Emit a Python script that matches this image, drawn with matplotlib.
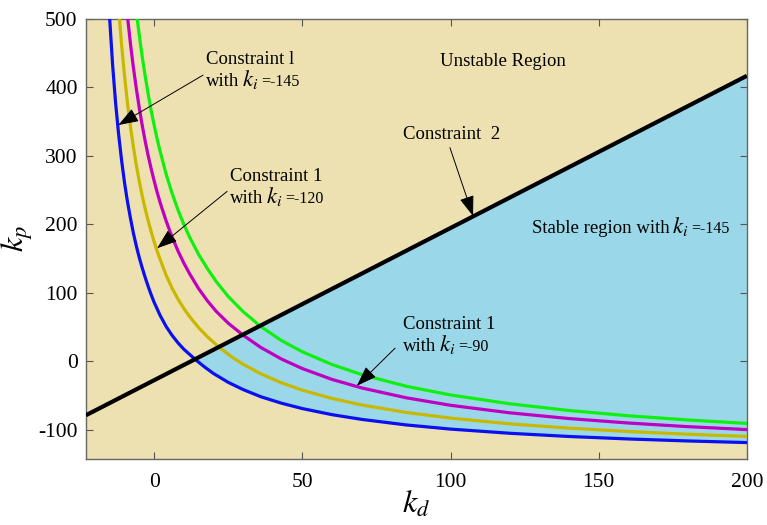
import numpy as np
import matplotlib
matplotlib.use("Agg")
import matplotlib.pyplot as plt
from matplotlib.patches import Polygon
from matplotlib.offsetbox import TextArea, HPacker, AnnotationBbox

plt.rcParams["font.family"] = ["Liberation Serif", "DejaVu Serif"]
plt.rcParams["mathtext.fontset"] = "stix"
plt.rcParams["axes.unicode_minus"] = False

# Constraint 1 boundaries (kd, kp) for several ki values
kd_ki145 = [-15, -14, -13, -12, -11, -10, -9, -8, -7, -6, -5, -4, -3, -2, -1, 0,
            2, 4, 6, 8, 10, 14, 17, 20, 25, 30, 36, 43, 50, 60, 70, 85, 100, 120,
            140, 160, 180, 200]
kp_ki145 = [500, 432, 377, 332, 294, 261, 233, 209, 187, 168, 151, 136, 122, 109,
            97, 86, 67, 51, 38, 27, 17.5, 2, -8.5, -18, -31, -41.5, -52, -61.5,
            -69.3, -78.2, -85.1, -93.2, -99.3, -105.4, -110.1, -113.7, -116.6, -119]

kd_ki120 = [-11.7, -11, -10, -9, -8, -7, -6, -5, -4, -3, -2, -1, 0, 1, 2, 4, 6, 8,
            10, 12, 15, 18, 22, 26, 30, 36, 43, 50, 60, 70, 85, 100, 120, 140, 160,
            180, 200]
kp_ki120 = [500, 463, 417, 377, 343, 313, 286, 262.5, 241, 222, 205, 189, 174.5,
            161, 149, 126, 107, 91, 77, 65, 49, 35.5, 20, 6.8, -4.5, -18.5, -31.7,
            -42.4, -54.5, -64, -74.9, -83.2, -91.6, -97.9, -102.8, -106.8, -110]

kd_ki90 = [-8.9, -8, -7, -6, -5, -4, -3, -2, -1, 0, 1, 2, 4, 6, 8, 10, 12, 15, 18,
           21, 25, 30, 36, 43, 50, 60, 70, 85, 100, 120, 140, 160, 180, 200]
kp_ki90 = [500, 464, 429, 398, 369.5, 344, 321, 300, 281, 263.5, 247, 232, 205.5,
           182, 161.5, 143.5, 127.5, 106, 88, 72.5, 55.5, 38, 20, 3, -10.8, -26.7,
           -39.1, -53.5, -64.5, -75.5, -83.9, -90.4, -95.7, -100]

kd_ki60 = [-5.7, -5, -4, -3, -2, -1, 0, 1, 2, 4, 6, 8, 10, 12, 15, 18, 21, 25, 30,
           36, 43, 50, 60, 70, 85, 100, 120, 140, 160, 180, 200]
kp_ki60 = [500, 476, 444, 416, 390, 366, 345, 325, 307, 274, 246, 221.5, 200,
           181, 156, 135, 116, 94.5, 72.5, 50.5, 30, 13.7, -4.9, -19.6, -36.6,
           -49.4, -62.3, -72.1, -79.8, -85.9, -91]

# Constraint 2 (straight boundary)
kd_c2 = [-23.0, 200.0]
kp_c2 = [-79.0, 417.0]

xticks = [0, 50, 100, 150, 200]
yticks = [-100, 0, 100, 200, 300, 400, 500]

beige = "#EEE1B1"
cyan = "#9AD8E9"

fig = plt.figure(figsize=(7.67, 5.25), dpi=100)
ax = fig.add_axes([0.1121, 0.1257, 0.8617, 0.8381])
ax.set_facecolor(beige)

# stable region: above the ki=-145 curve and below constraint 2
kd_arr = np.array(kd_ki145, dtype=float)
kp_arr = np.array(kp_ki145, dtype=float)
mask = kd_arr >= 14.0
verts = np.column_stack([kd_arr[mask], kp_arr[mask]])
verts = np.vstack([verts, [kd_c2[1], kp_c2[1]]])
ax.add_patch(Polygon(verts, closed=True, facecolor=cyan, edgecolor="none", zorder=1))

lw = 2.3
ax.plot(kd_ki145, kp_ki145, color="#0A10F0", lw=lw, zorder=3)
ax.plot(kd_ki120, kp_ki120, color="#C8B800", lw=lw, zorder=3)
ax.plot(kd_ki90, kp_ki90, color="#C000C0", lw=lw, zorder=3)
ax.plot(kd_ki60, kp_ki60, color="#10F010", lw=lw, zorder=3)
ax.plot(kd_c2, kp_c2, color="black", lw=3.0, zorder=4, solid_capstyle="butt")

ax.set_xlim(-23, 200)
ax.set_ylim(-143, 500)
ax.set_xticks(xticks)
ax.set_yticks(yticks)
ax.tick_params(direction="in", top=True, right=True, length=5, width=0.8,
               color="#555555", labelsize=15.5)
ax.tick_params(axis="x", pad=10)
ax.tick_params(axis="y", pad=6)
for s in ax.spines.values():
    s.set_color("#666666")
    s.set_linewidth(1.0)

ax.set_xlabel("$k_d$", fontsize=23, labelpad=-2)
ax.set_ylabel("$k_p$", fontsize=23, labelpad=2)

tfs = 13.5
arrow_kw = dict(arrowstyle="-|>,head_length=0.9,head_width=0.32", color="black",
                lw=0.7, mutation_scale=14, shrinkA=0, shrinkB=0)


def ki_label(x, y, lead, value):
    """Write '<lead> k_i =<value>' with a larger k_i and a smaller value."""
    parts = [
        TextArea(lead, textprops=dict(fontsize=tfs)),
        TextArea("$k_i$", textprops=dict(fontsize=16.5)),
        TextArea(value, textprops=dict(fontsize=11.5)),
    ]
    box = HPacker(children=parts, align="baseline", pad=0, sep=2)
    ab = AnnotationBbox(box, (x, y), xycoords="data", box_alignment=(0, 0.5),
                        frameon=False, pad=0, zorder=5)
    ax.add_artist(ab)


ax.text(117.8, 438, "Unstable Region", fontsize=tfs, ha="center", va="center", zorder=5)

ax.annotate("", xy=(-12.1, 345), xytext=(16.5, 418), arrowprops=arrow_kw, zorder=6)
ax.text(17.6, 441, "Constraint l", fontsize=tfs, ha="left", va="center", zorder=5)
ki_label(17.6, 411, "with", "=-145")

ax.annotate("", xy=(1.0, 165), xytext=(24.6, 248), arrowprops=arrow_kw, zorder=6)
ax.text(25.6, 270, "Constraint 1", fontsize=tfs, ha="left", va="center", zorder=5)
ki_label(25.6, 240, "with", "=-120")

ax.annotate("", xy=(107.6, 212), xytext=(99.8, 312), arrowprops=arrow_kw, zorder=6)
ax.text(84.0, 331, "Constraint  2", fontsize=tfs, ha="left", va="center", zorder=5)

ki_label(127.5, 196.5, "Stable region with", "=-145")

ax.annotate("", xy=(68.4, -36), xytext=(81.3, 19), arrowprops=arrow_kw, zorder=6)
ax.text(84.0, 54, "Constraint 1", fontsize=tfs, ha="left", va="center", zorder=5)
ki_label(84.0, 24, "with", "=-90")

fig.savefig("out.png", dpi=100)
